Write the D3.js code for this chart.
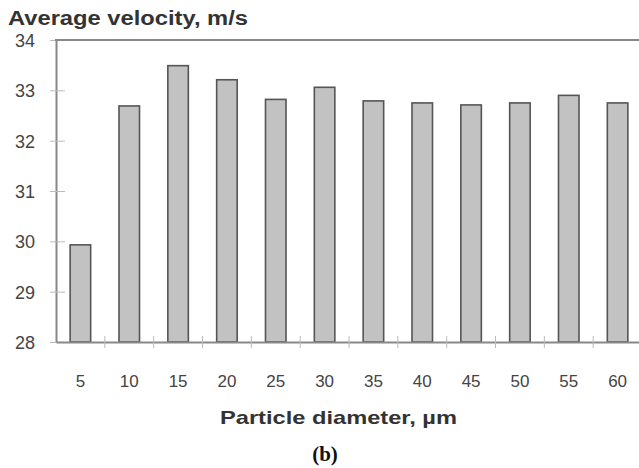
<!DOCTYPE html>
<html>
<head>
<meta charset="utf-8">
<script src="https://cdn.jsdelivr.net/npm/d3@7/dist/d3.min.js"></script>
<style>
  html, body { margin: 0; padding: 0; background: #fff; }
  svg { display: block; }
</style>
</head>
<body>
<svg id="chart" width="639" height="468" font-family="Liberation Sans, Arial, sans-serif"></svg>
<script>
// Particle diameter categories (µm) and average velocity (m/s)
const diameters = ["5", "10", "15", "20", "25", "30", "35", "40", "45", "50", "55", "60"];
const velocities = [29.93, 32.69, 33.49, 33.21, 32.82, 33.06, 32.79, 32.75, 32.71, 32.75, 32.9, 32.75];
const yTicks = [28, 29, 30, 31, 32, 33, 34];

(function () {
  const svg = d3.select("#chart");
  const plotLeft = 56, plotRight = 642, plotTop = 40, plotBottom = 342;

  const x = d3.scaleBand().domain(diameters).range([plotLeft, plotRight]).paddingInner(0.58).paddingOuter(0.29);
  const y = d3.scaleLinear().domain([28, 34]).range([plotBottom, plotTop]);

  // bars
  svg.append("g").selectAll("rect")
    .data(diameters)
    .join("rect")
    .attr("x", d => x(d))
    .attr("y", (d, i) => y(velocities[i]))
    .attr("width", x.bandwidth())
    .attr("height", (d, i) => y(28) - y(velocities[i]))
    .attr("fill", "#c2c2c2")
    .attr("stroke", "#555")
    .attr("stroke-width", 1.6);

  // y axis
  const yAxis = svg.append("g")
    .attr("transform", `translate(${plotLeft},0)`)
    .call(d3.axisLeft(y).tickValues(yTicks).tickFormat(d3.format("d")).tickSize(0).tickPadding(21));
  yAxis.attr("font-family", null);
  yAxis.select(".domain").attr("stroke", "#888").attr("stroke-width", 2);
  yAxis.selectAll(".tick text")
    .attr("font-size", 18).attr("fill", "#444").attr("dy", "0.36em");
  yAxis.selectAll(".tick").append("line")
    .attr("x1", -6).attr("x2", 9).attr("stroke", "#bbb").attr("stroke-width", 1);

  // x axis
  const xAxis = svg.append("g")
    .attr("transform", `translate(0,${plotBottom})`)
    .call(d3.axisBottom(x).tickSize(0).tickPadding(33));
  xAxis.attr("font-family", null);
  xAxis.select(".domain").attr("stroke", "#888").attr("stroke-width", 2);
  xAxis.selectAll(".tick text").attr("font-size", 17).attr("fill", "#444");

  // small ticks between categories
  const gap = x.step() - x.bandwidth();
  svg.append("g").selectAll("line")
    .data(diameters.slice(0, -1))
    .join("line")
    .attr("x1", d => x(d) + x.bandwidth() + gap / 2)
    .attr("x2", d => x(d) + x.bandwidth() + gap / 2)
    .attr("y1", plotBottom - 6).attr("y2", plotBottom + 6)
    .attr("stroke", "#bbb").attr("stroke-width", 1);

  // frame top edge
  svg.append("line")
    .attr("x1", plotLeft - 1).attr("x2", 639).attr("y1", plotTop).attr("y2", plotTop)
    .attr("stroke", "#888").attr("stroke-width", 2);

  // titles
  svg.append("text")
    .attr("x", 8).attr("y", 25)
    .attr("font-size", 20).attr("font-weight", "bold").attr("fill", "#333")
    .attr("textLength", 240).attr("lengthAdjust", "spacingAndGlyphs")
    .text("Average velocity, m/s");

  svg.append("text")
    .attr("x", 220).attr("y", 424)
    .attr("font-size", 19).attr("font-weight", "bold").attr("fill", "#333")
    .attr("textLength", 237).attr("lengthAdjust", "spacingAndGlyphs")
    .text("Particle diameter, µm");

  svg.append("text")
    .attr("x", 325).attr("y", 461)
    .attr("text-anchor", "middle")
    .attr("font-family", "Liberation Serif, Times New Roman, serif")
    .attr("font-size", 21).attr("font-weight", "bold").attr("fill", "#111")
    .text("(b)");
})();
</script>
</body>
</html>
